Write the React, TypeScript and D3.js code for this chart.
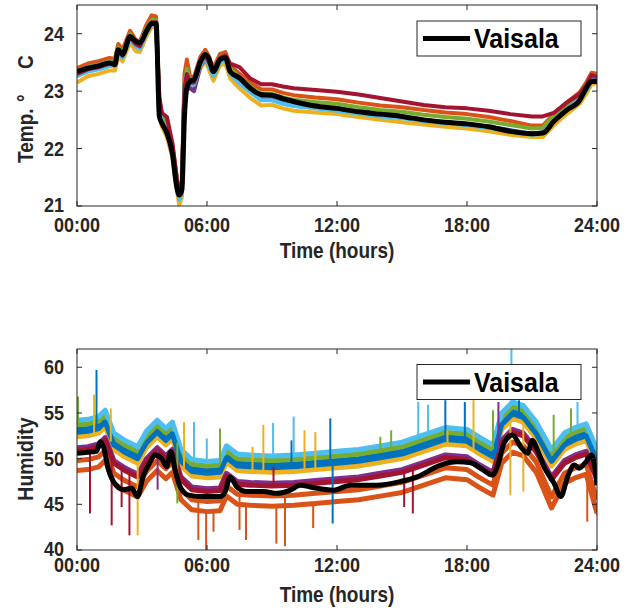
import React from "react";
import * as d3 from "d3";

// ---------- shared ----------
const palette = ["#0072BD", "#D95319", "#EDB120", "#7E2F8E", "#77AC30", "#4DBEEE", "#A2142F"];
const hourTicks = [0, 6, 12, 18, 24];
const hourTickLabels = ["00:00", "06:00", "12:00", "18:00", "24:00"];
const tempTicks = [21, 22, 23, 24];
const humTicks = [40, 45, 50, 55, 60];
const legendLabel = "Vaisala";

// ---------- temperature ----------
const tempHours = [0, 0.5, 1, 1.5, 1.75, 1.9, 2.1, 2.45, 2.7, 2.9, 3.2, 3.45, 3.65, 3.8, 3.92, 4.15, 4.4, 4.6, 4.72, 4.84, 4.96, 5.07, 5.22, 5.4, 5.7, 5.92, 6.07, 6.3, 6.6, 6.85, 7.07, 7.5, 8, 8.5, 9, 9.5, 10, 11, 12, 13, 14, 15, 16, 17, 18, 19, 20, 21, 21.5, 22, 22.6, 23.2, 23.5, 23.75, 24];
const tempVaisala = [23.34, 23.40, 23.44, 23.49, 23.46, 23.72, 23.64, 23.95, 23.87, 23.84, 24.04, 24.18, 24.18, 22.56, 22.44, 22.27, 21.92, 21.34, 21.19, 21.28, 22.56, 23.05, 23.17, 23.20, 23.52, 23.64, 23.58, 23.34, 23.55, 23.58, 23.34, 23.23, 23.05, 22.94, 22.93, 22.87, 22.82, 22.74, 22.70, 22.64, 22.60, 22.56, 22.50, 22.46, 22.43, 22.38, 22.30, 22.26, 22.27, 22.47, 22.67, 22.84, 23.05, 23.17, 23.17];
const tempBlue = [23.28, 23.36, 23.40, 23.46, 23.46, 23.70, 23.60, 23.93, 23.80, 23.76, 24.03, 24.18, 24.18, 22.73, 22.48, 22.33, 21.98, 21.43, 21.13, 21.28, 23.08, 23.33, 23.13, 23.13, 23.48, 23.60, 23.48, 23.28, 23.53, 23.56, 23.33, 23.16, 23.00, 22.86, 22.86, 22.80, 22.76, 22.72, 22.68, 22.63, 22.58, 22.55, 22.50, 22.46, 22.43, 22.38, 22.32, 22.26, 22.28, 22.50, 22.70, 22.88, 23.03, 23.20, 23.20];
const tempOrange = [23.40, 23.48, 23.52, 23.58, 23.56, 23.82, 23.72, 24.05, 23.90, 23.86, 24.15, 24.32, 24.30, 22.85, 22.60, 22.45, 22.08, 21.52, 21.22, 21.38, 23.30, 23.55, 23.25, 23.25, 23.60, 23.72, 23.62, 23.40, 23.65, 23.68, 23.45, 23.30, 23.15, 23.03, 23.03, 22.97, 22.93, 22.89, 22.86, 22.80, 22.75, 22.72, 22.67, 22.63, 22.60, 22.55, 22.48, 22.40, 22.40, 22.60, 22.80, 22.98, 23.15, 23.32, 23.30];
const tempYellow = [23.15, 23.26, 23.30, 23.36, 23.36, 23.60, 23.52, 23.85, 23.70, 23.68, 23.95, 24.12, 24.10, 22.60, 22.38, 22.20, 21.85, 21.30, 21.02, 21.15, 23.00, 23.30, 23.05, 23.05, 23.40, 23.52, 23.40, 23.18, 23.45, 23.48, 23.22, 23.05, 22.88, 22.75, 22.76, 22.70, 22.66, 22.63, 22.60, 22.55, 22.50, 22.46, 22.42, 22.38, 22.35, 22.30, 22.24, 22.20, 22.20, 22.40, 22.60, 22.78, 22.95, 23.12, 23.14];
const tempPurple = [23.27, 23.35, 23.39, 23.45, 23.45, 23.69, 23.59, 23.92, 23.79, 23.75, 24.02, 24.17, 24.17, 22.72, 22.47, 22.32, 21.97, 21.42, 21.12, 21.27, 23.07, 23.30, 23.05, 23.00, 23.45, 23.55, 23.47, 23.27, 23.52, 23.55, 23.32, 23.15, 22.99, 22.86, 22.85, 22.79, 22.75, 22.71, 22.68, 22.62, 22.58, 22.54, 22.49, 22.45, 22.42, 22.37, 22.31, 22.25, 22.27, 22.49, 22.69, 22.87, 23.02, 23.19, 23.19];
const tempGreen = [23.34, 23.42, 23.46, 23.52, 23.52, 23.76, 23.66, 23.99, 23.86, 23.82, 24.09, 24.24, 24.24, 22.79, 22.54, 22.39, 22.04, 21.49, 21.19, 21.34, 23.14, 23.39, 23.19, 23.19, 23.54, 23.66, 23.54, 23.34, 23.59, 23.62, 23.39, 23.24, 23.08, 22.95, 22.95, 22.89, 22.85, 22.81, 22.78, 22.72, 22.67, 22.64, 22.59, 22.55, 22.52, 22.47, 22.41, 22.35, 22.36, 22.57, 22.77, 22.95, 23.10, 23.27, 23.27];
const tempLightBlue = [23.26, 23.34, 23.38, 23.44, 23.44, 23.68, 23.58, 23.91, 23.78, 23.74, 24.01, 24.16, 24.16, 22.71, 22.46, 22.31, 21.96, 21.41, 21.11, 21.26, 23.06, 23.31, 23.11, 23.11, 23.46, 23.58, 23.46, 23.26, 23.51, 23.54, 23.31, 23.14, 22.98, 22.84, 22.84, 22.78, 22.74, 22.70, 22.66, 22.61, 22.56, 22.53, 22.48, 22.44, 22.41, 22.36, 22.30, 22.24, 22.26, 22.48, 22.68, 22.86, 23.01, 23.18, 23.18];
const tempDarkRed = [23.30, 23.38, 23.42, 23.48, 23.48, 23.72, 23.62, 23.95, 23.82, 23.78, 24.05, 24.20, 24.20, 22.90, 22.62, 22.55, 22.10, 21.50, 21.20, 21.35, 23.05, 23.30, 23.15, 23.15, 23.50, 23.62, 23.52, 23.35, 23.58, 23.62, 23.48, 23.42, 23.22, 23.12, 23.12, 23.08, 23.05, 23.02, 22.99, 22.94, 22.88, 22.82, 22.76, 22.72, 22.70, 22.66, 22.60, 22.56, 22.56, 22.62, 22.80, 22.95, 23.10, 23.28, 23.25];
const tempSensors = [tempBlue, tempOrange, tempYellow, tempPurple, tempGreen, tempLightBlue, tempDarkRed];
const tempSensorColor = [0, 1, 2, 3, 4, 5, 6];

// ---------- humidity ----------
const humHours = [0, 0.5, 0.9, 1.07, 1.22, 1.45, 1.68, 2.14, 2.53, 2.79, 3.07, 3.35, 3.6, 3.91, 4.14, 4.33, 4.53, 4.76, 5.15, 5.7, 6.2, 6.61, 6.84, 7.07, 7.38, 7.84, 8.6, 9.23, 9.85, 10.3, 10.77, 11.85, 12.62, 13.85, 14.93, 15.7, 16.78, 17.55, 18.17, 18.63, 19.17, 19.4, 19.71, 20.1, 20.48, 20.79, 21.02, 21.25, 21.56, 22.02, 22.33, 22.64, 22.95, 23.18, 23.49, 23.75, 23.94, 24];
const humVaisala = [50.6, 50.7, 50.8, 51.85, 51.3, 48.8, 47.5, 46.6, 46.75, 45.85, 48.2, 49.5, 50.4, 50.0, 49.1, 50.75, 48.75, 46.9, 46.0, 45.85, 45.85, 45.85, 46.4, 48.0, 46.9, 46.4, 46.4, 46.2, 46.55, 47.1, 46.9, 46.55, 47.1, 47.1, 47.5, 48.0, 49.3, 49.65, 49.55, 48.95, 48.2, 49.1, 51.7, 52.6, 51.3, 50.6, 52.0, 50.95, 49.1, 47.3, 45.85, 48.0, 49.3, 48.95, 49.65, 50.4, 48.4, 47.1];
const sensorHours = [0, 0.5, 1, 1.3, 1.7, 2.2, 2.8, 3.2, 3.7, 4.1, 4.4, 4.8, 5.3, 6, 6.6, 6.9, 7.4, 8, 9, 10, 11, 12, 13, 14, 15, 16, 17, 18, 18.6, 19.2, 19.6, 20.1, 20.6, 21.2, 21.9, 22.5, 23, 23.5, 24];
const humBlue = [53.2, 53.3, 53.6, 54.3, 51.8, 51.0, 50.3, 52.0, 53.2, 52.3, 53.0, 50.0, 48.9, 48.7, 48.8, 50.4, 49.5, 49.4, 49.3, 49.4, 49.6, 49.8, 50.0, 50.4, 50.8, 51.6, 52.4, 52.2, 51.3, 50.5, 54.0, 55.2, 54.8, 53.0, 50.0, 51.8, 52.4, 52.8, 50.0];
const humOrange = [49.8, 49.9, 50.2, 50.9, 48.4, 47.6, 46.9, 48.6, 49.8, 48.9, 49.6, 46.6, 45.5, 45.3, 45.4, 47.0, 46.1, 46.0, 45.9, 46.0, 46.2, 46.4, 46.6, 47.0, 47.4, 48.2, 49.0, 48.8, 47.9, 47.1, 50.6, 51.8, 51.4, 49.6, 45.8, 48.4, 49.0, 49.4, 45.5];
const humYellow = [52.4, 52.5, 52.8, 53.5, 51.0, 50.2, 49.5, 51.2, 52.4, 51.5, 52.2, 49.2, 48.1, 47.9, 48.0, 49.6, 48.7, 48.6, 48.5, 48.6, 48.8, 49.0, 49.2, 49.6, 50.0, 50.8, 51.6, 51.4, 50.5, 49.7, 53.2, 54.4, 54.0, 52.2, 49.2, 51.0, 51.6, 52.0, 49.2];
const humPurple = [51.2, 51.3, 51.6, 52.3, 49.8, 49.0, 48.3, 50.0, 51.2, 50.3, 51.0, 48.0, 46.9, 46.7, 46.8, 48.4, 47.5, 47.4, 47.3, 47.4, 47.6, 47.8, 48.0, 48.4, 48.8, 49.6, 50.4, 50.2, 49.3, 48.5, 52.0, 53.2, 52.8, 51.0, 48.0, 49.8, 50.4, 50.8, 48.0];
const humGreen = [53.7, 53.8, 54.1, 54.8, 52.3, 51.5, 50.8, 52.5, 53.7, 52.8, 53.5, 50.5, 49.4, 49.2, 49.3, 50.9, 50.0, 49.9, 49.8, 49.9, 50.1, 50.3, 50.5, 50.9, 51.3, 52.1, 52.9, 52.7, 51.8, 51.0, 54.5, 55.7, 55.3, 53.5, 50.5, 52.3, 52.9, 53.3, 50.5];
const humLightBlue = [54.2, 54.3, 54.6, 55.3, 52.8, 52.0, 51.3, 53.0, 54.2, 53.3, 54.0, 51.0, 49.9, 49.7, 49.8, 51.4, 50.5, 50.4, 50.3, 50.4, 50.6, 50.8, 51.0, 51.4, 51.8, 52.6, 53.4, 53.2, 52.3, 51.5, 55.0, 56.2, 55.8, 54.0, 51.0, 52.8, 53.4, 53.8, 51.0];
const humDarkRed = [50.9, 51.0, 51.3, 52.0, 49.5, 48.7, 48.0, 49.7, 50.9, 50.0, 50.7, 47.7, 46.6, 46.4, 46.5, 48.1, 47.2, 47.1, 47.0, 47.1, 47.3, 47.5, 47.7, 48.1, 48.5, 49.3, 50.1, 49.9, 49.0, 48.2, 51.7, 52.9, 52.5, 50.7, 47.7, 49.5, 50.1, 50.5, 47.7];
const humBlue2 = [52.9, 53.0, 53.3, 54.0, 51.5, 50.7, 50.0, 51.7, 52.9, 52.0, 52.7, 49.7, 48.6, 48.4, 48.5, 50.1, 49.2, 49.1, 49.0, 49.1, 49.3, 49.5, 49.7, 50.1, 50.5, 51.3, 52.1, 51.9, 51.0, 50.2, 53.7, 54.9, 54.5, 52.7, 49.7, 51.5, 52.1, 52.5, 49.7];
const humOrange2 = [48.7, 48.8, 49.1, 49.8, 47.3, 46.5, 45.8, 47.5, 48.7, 47.8, 48.5, 45.5, 44.4, 44.2, 44.3, 45.9, 45.0, 44.9, 44.8, 44.9, 45.1, 45.3, 45.5, 45.9, 46.3, 47.1, 47.9, 47.7, 46.8, 46.0, 49.5, 50.7, 50.3, 48.5, 44.6, 47.3, 47.9, 48.3, 44.0];
const humSensors = [humBlue, humOrange, humYellow, humPurple, humGreen, humLightBlue, humDarkRed, humBlue2, humOrange2];
const humSensorColor = [0, 1, 2, 3, 4, 5, 6, 0, 1];

// humidity outliers (sensor index, hour, value)
const spikeSensor = [4, 0, 2, 6, 2, 6, 6, 6, 2, 3, 4, 2, 5, 1, 5, 8, 8, 4, 1, 8, 2, 2, 5, 6, 8, 1, 0, 5, 2, 8, 2, 0, 7, 4, 4, 6, 6, 5, 5, 0, 2, 0, 2, 4, 3, 2, 5, 0, 2, 4, 4, 5, 1, 8];
const spikeHour = [0.05, 0.9, 0.79, 0.6, 1.56, 1.6, 2.06, 2.42, 2.8, 3.72, 4.63, 4.94, 5.4, 5.6, 5.99, 5.96, 6.3, 6.6, 7.5, 7.8, 8.1, 8.6, 9.05, 9.07, 9.2, 9.6, 9.9, 10.0, 10.5, 10.9, 11.0, 11.69, 11.8, 14.0, 14.5, 15.1, 15.5, 15.75, 16.2, 17.0, 17.1, 17.9, 18.3, 19.2, 19.45, 20.0, 20.05, 20.4, 20.6, 22.0, 22.8, 23.1, 23.55, 24.0];
const spikeValue = [56.8, 59.7, 57.0, 44.0, 55.5, 42.7, 44.7, 41.6, 41.6, 46.6, 45.1, 54.0, 54.0, 41.1, 52.2, 40.0, 42.0, 53.3, 42.2, 41.1, 51.3, 53.7, 53.9, 49.1, 40.7, 40.4, 52.0, 54.6, 53.1, 42.4, 52.9, 54.4, 42.9, 52.4, 53.1, 44.7, 44.0, 56.2, 55.9, 56.4, 53.1, 56.2, 56.4, 55.3, 56.2, 46.0, 63.0, 56.4, 46.4, 54.8, 55.5, 56.2, 43.1, 43.8];

// ---------- layout ----------
const W = 628;
const H = 610;
const X0 = 77;
const X1 = 597;
const AX = "#262626";
const FONT = "'Liberation Sans', Arial, Helvetica, sans-serif";
const STRETCH = 1.13;

const x = d3.scaleLinear().domain([0, 24]).range([X0, X1]);

function T(props: { x: number; y: number; size: number; anchor?: string; fill?: string; rotate?: boolean; children: React.ReactNode }) {
  const tr = props.rotate
    ? `translate(${props.x},${props.y}) rotate(-90) scale(1,${STRETCH})`
    : `translate(${props.x},${props.y}) scale(1,${STRETCH})`;
  return (
    <text transform={tr} textAnchor={props.anchor || "start"} fontSize={props.size} fontWeight="bold" fill={props.fill || AX} fontFamily={FONT}>
      {props.children}
    </text>
  );
}

type PanelProps = {
  id: string;
  top: number;
  bottom: number;
  yDomain: [number, number];
  yTicks: number[];
  tickLabelBaseline: number;
  titleBaseline: number;
  children: (y: d3.ScaleLinear<number, number>) => React.ReactNode;
  yTitle: React.ReactNode;
  legendTop: number;
};

function Panel(p: PanelProps) {
  const y = d3.scaleLinear().domain(p.yDomain).range([p.bottom, p.top]);
  const tl = 5;
  const legendH = 35;
  const legendMid = p.legendTop + legendH / 2;
  return (
    <g>
      <defs>
        <clipPath id={p.id}>
          <rect x={X0} y={p.top} width={X1 - X0} height={p.bottom - p.top} />
        </clipPath>
      </defs>
      <g clipPath={`url(#${p.id})`}>{p.children(y)}</g>
      <rect x={X0} y={p.top} width={X1 - X0} height={p.bottom - p.top} fill="none" stroke={AX} strokeWidth={1} />
      {hourTicks.map((h) => (
        <g key={"xt" + h}>
          <line x1={x(h)} x2={x(h)} y1={p.bottom} y2={p.bottom - tl} stroke={AX} />
          <line x1={x(h)} x2={x(h)} y1={p.top} y2={p.top + tl} stroke={AX} />
        </g>
      ))}
      {p.yTicks.map((v, i) => (
        <g key={"yt" + v}>
          <line x1={X0} x2={X0 + tl} y1={y(v)} y2={y(v)} stroke={AX} />
          <line x1={X1} x2={X1 - tl} y1={y(v)} y2={y(v)} stroke={AX} />
          <T x={X0 - 13} y={y(v) + (i === 0 ? 5.5 : 7)} size={18} anchor="end">
            {v}
          </T>
        </g>
      ))}
      {hourTicks.map((h, i) => (
        <T key={"xl" + h} x={x(h)} y={p.tickLabelBaseline} size={18} anchor="middle">
          {hourTickLabels[i]}
        </T>
      ))}
      <T x={(X0 + X1) / 2} y={p.titleBaseline} size={19} anchor="middle">
        Time (hours)
      </T>
      {p.yTitle}
      <rect x={417} y={p.legendTop} width={164} height={legendH} fill="#fff" stroke={AX} strokeWidth={1} />
      <line x1={423} x2={470} y1={legendMid} y2={legendMid} stroke="#000" strokeWidth={5} />
      <T x={474} y={legendMid + 9.5} size={25} fill="#000">
        {legendLabel}
      </T>
    </g>
  );
}

export default function App() {
  const tempPanel = (y: d3.ScaleLinear<number, number>) => {
    const line = d3
      .line<number>()
      .x((_, i) => x(tempHours[i]))
      .y((d) => y(d));
    return (
      <g>
        {tempSensors.map((s, k) => (
          <path key={k} d={line(s) || ""} fill="none" stroke={palette[tempSensorColor[k]]} strokeWidth={4} strokeLinejoin="round" />
        ))}
        <path d={line.curve(d3.curveMonotoneX)(tempVaisala) || ""} fill="none" stroke="#000" strokeWidth={5} strokeLinejoin="round" />
      </g>
    );
  };

  const humPanel = (y: d3.ScaleLinear<number, number>) => {
    const sline = d3
      .line<number>()
      .x((_, i) => x(sensorHours[i]))
      .y((d) => y(d));
    const vline = d3
      .line<number>()
      .x((_, i) => x(humHours[i]))
      .y((d) => y(d))
      .curve(d3.curveMonotoneX);
    return (
      <g>
        {humSensors.map((s, k) => (
          <path key={k} d={sline(s) || ""} fill="none" stroke={palette[humSensorColor[k]]} strokeWidth={5} strokeLinejoin="round" />
        ))}
        {spikeHour.map((h, i) => {
          const s = spikeSensor[i];
          const base = d3.scaleLinear().domain(sensorHours).range(humSensors[s])(h);
          return (
            <line key={"sp" + i} x1={x(h)} x2={x(h)} y1={y(base)} y2={y(spikeValue[i])} stroke={palette[humSensorColor[s]]} strokeWidth={2} />
          );
        })}
        <path d={vline(humVaisala) || ""} fill="none" stroke="#000" strokeWidth={5} strokeLinejoin="round" />
      </g>
    );
  };

  const tempTitle = (
    <g>
      <T x={33} y={163} size={19} rotate>Temp.</T>
      <T x={33} y={102} size={19} rotate>°</T>
      <T x={33} y={69} size={19} rotate>C</T>
    </g>
  );
  const humTitle = (
    <T x={33} y={459} size={19.5} anchor="middle" rotate>
      Humidity
    </T>
  );

  return (
    <svg width={W} height={H} style={{ position: "absolute", left: 0, top: 0, background: "#fff" }}>
      <rect width={W} height={H} fill="#fff" />
      <Panel id="clipT" top={5} bottom={206} yDomain={[21, 24.5]} yTicks={tempTicks} tickLabelBaseline={232} titleBaseline={257.5} yTitle={tempTitle} legendTop={21}>
        {tempPanel}
      </Panel>
      <Panel id="clipH" top={349} bottom={550} yDomain={[40, 62]} yTicks={humTicks} tickLabelBaseline={571.5} titleBaseline={602} yTitle={humTitle} legendTop={364.5}>
        {humPanel}
      </Panel>
    </svg>
  );
}
